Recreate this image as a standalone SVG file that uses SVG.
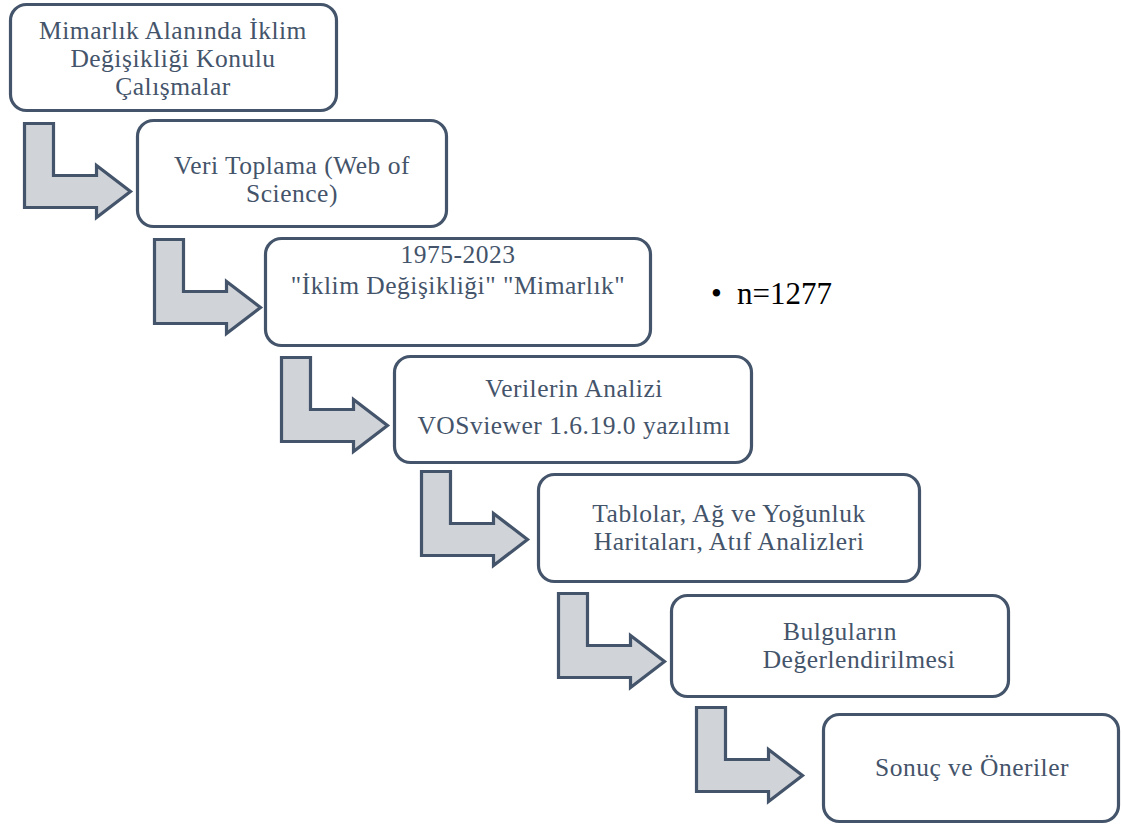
<svg xmlns="http://www.w3.org/2000/svg" width="1122" height="827" viewBox="0 0 1122 827">
<defs>
<style>
.box{fill:#ffffff;stroke:#44546a;stroke-width:3.2}
.arr{fill:#d0d3d8;stroke:#44546a;stroke-width:3.2;stroke-linejoin:miter}
.t{font-family:"Liberation Serif","Times New Roman",serif;font-size:25.5px;letter-spacing:0.5px;fill:#44546a;text-anchor:middle}
.n{font-family:"Liberation Serif","Times New Roman",serif;font-size:31px;fill:#000000}
</style>
<path id="bent" d="M0,0 H29 V52 H72 V42 L106,68 L72,94 V84 H0 Z"/>
</defs>
<rect width="1122" height="827" fill="#ffffff"/>
<g id="connectors">
<use href="#bent" class="arr" transform="translate(24.5,123.5)"/>
<use href="#bent" class="arr" transform="translate(154.5,239.5)"/>
<use href="#bent" class="arr" transform="translate(281.5,357.5)"/>
<use href="#bent" class="arr" transform="translate(421.5,471.5)"/>
<use href="#bent" class="arr" transform="translate(558.5,593.5)"/>
<use href="#bent" class="arr" transform="translate(696.5,707.5)"/>
</g>
<g id="node1">
<rect class="box" x="10.5" y="4.5" width="326" height="106" rx="16"/>
<text class="t" x="173" y="39">Mimarlık Alanında İklim</text>
<text class="t" x="173" y="67">Değişikliği Konulu</text>
<text class="t" x="173" y="95">Çalışmalar</text>
</g>
<g id="node2">
<rect class="box" x="137.5" y="120.5" width="309" height="106" rx="16"/>
<text class="t" x="292" y="174">Veri Toplama (Web of</text>
<text class="t" x="292" y="202">Science)</text>
</g>
<g id="node3">
<rect class="box" x="265.5" y="238.5" width="385" height="107" rx="16"/>
<text class="t" x="458" y="263">1975-2023</text>
<text class="t" x="458" y="294">"İklim Değişikliği" "Mimarlık"</text>
</g>
<g id="note">
<text class="n" x="711" y="304">•</text>
<text class="n" x="737" y="304">n=1277</text>
</g>
<g id="node4">
<rect class="box" x="394.5" y="356.5" width="357" height="106" rx="16"/>
<text class="t" x="574" y="397">Verilerin Analizi</text>
<text class="t" x="574" y="434">VOSviewer 1.6.19.0 yazılımı</text>
</g>
<g id="node5">
<rect class="box" x="538.5" y="474.5" width="381" height="107" rx="16"/>
<text class="t" x="729" y="522">Tablolar, Ağ ve Yoğunluk</text>
<text class="t" x="729" y="550">Haritaları, Atıf Analizleri</text>
</g>
<g id="node6">
<rect class="box" x="671.5" y="595.5" width="337" height="101" rx="16"/>
<text class="t" x="840" y="640">Bulguların</text>
<text class="t" x="859" y="668">Değerlendirilmesi</text>
</g>
<g id="node7">
<rect class="box" x="823.5" y="714.5" width="295" height="107" rx="16"/>
<text class="t" x="972" y="776">Sonuç ve Öneriler</text>
</g>
</svg>
